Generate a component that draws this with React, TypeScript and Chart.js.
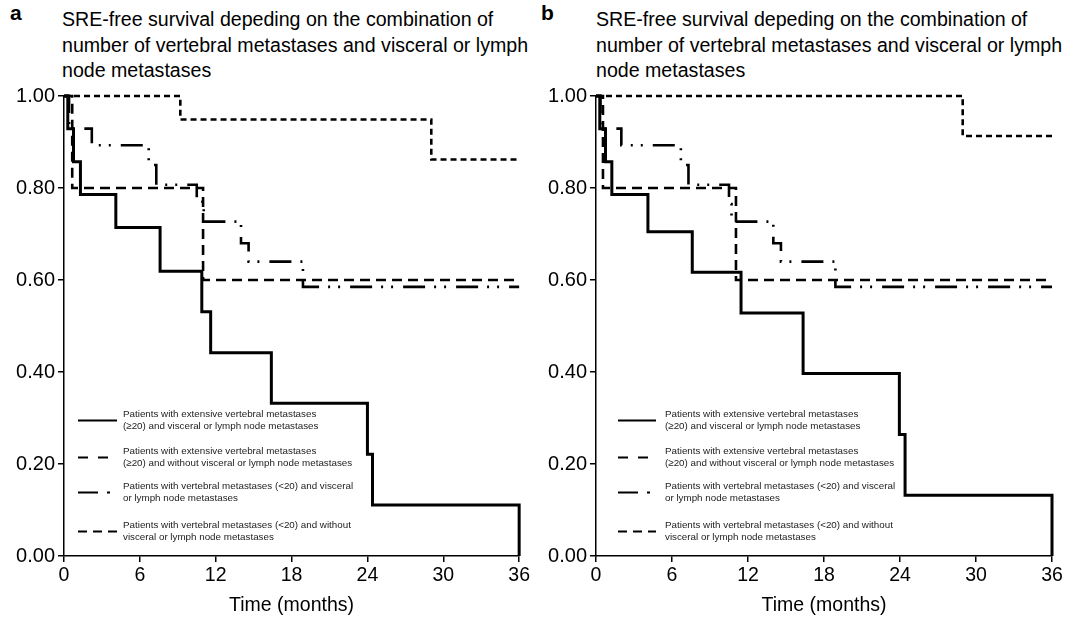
import React, { useEffect, useRef } from "react";
import { Chart, registerables } from "chart.js";

Chart.register(...registerables);

// ---------- data ----------
const timeTicks = [0, 6, 12, 18, 24, 30, 36];
const survivalTicks = [0, 0.2, 0.4, 0.6, 0.8, 1.0];

const titleLines = [
  "SRE-free survival depeding on the combination of",
  "number of vertebral metastases and visceral or lymph",
  "node metastases",
];
const xAxisTitle = "Time (months)";
const panelLetters = ["a", "b"];

const legendLabels = [
  ["Patients with extensive vertebral metastases", "(≥20) and visceral or lymph node metastases"],
  ["Patients with extensive vertebral metastases", "(≥20) and without visceral or lymph node metastases"],
  ["Patients with vertebral metastases (<20) and visceral", "or lymph node metastases"],
  ["Patients with vertebral metastases (<20) and without", "visceral or lymph node metastases"],
];

// Panel a
const aTimesExtVisc = [0, 0.3, 0.75, 1.3, 4.1, 7.6, 10.9, 11.6, 16.4, 24.0, 24.4, 36];
const aSurvExtVisc = [1, 0.929, 0.857, 0.786, 0.714, 0.619, 0.531, 0.442, 0.332, 0.221, 0.111, 0];
const aTimesExtNoVisc = [0, 0.65, 11.0, 36];
const aSurvExtNoVisc = [1, 0.8, 0.6, 0.6];
const aTimesLowVisc = [0, 0.4, 2.2, 6.7, 7.3, 10.5, 11.05, 14.0, 14.6, 18.9, 36];
const aSurvLowVisc = [1, 0.929, 0.893, 0.85, 0.807, 0.77, 0.727, 0.68, 0.64, 0.585, 0.585];
const aTimesLowNoVisc = [0, 9.2, 29.05, 36];
const aSurvLowNoVisc = [1, 0.949, 0.862, 0.862];

// Panel b
const bTimesExtVisc = [0, 0.3, 0.75, 1.25, 4.1, 7.6, 11.45, 16.35, 23.95, 24.4, 36];
const bSurvExtVisc = [1, 0.929, 0.857, 0.786, 0.705, 0.617, 0.528, 0.397, 0.264, 0.132, 0];
const bTimesExtNoVisc = [0, 0.55, 11.05, 36];
const bSurvExtNoVisc = [1, 0.8, 0.6, 0.6];
const bTimesLowVisc = [0, 0.35, 2.0, 6.7, 7.3, 10.5, 10.7, 14.0, 14.6, 18.9, 36];
const bSurvLowVisc = [1, 0.929, 0.893, 0.85, 0.807, 0.765, 0.727, 0.68, 0.64, 0.585, 0.585];
const bTimesLowNoVisc = [0, 28.95, 36];
const bSurvLowNoVisc = [1, 0.913, 0.913];

const panelA = [
  { times: aTimesExtVisc, surv: aSurvExtVisc },
  { times: aTimesExtNoVisc, surv: aSurvExtNoVisc },
  { times: aTimesLowVisc, surv: aSurvLowVisc },
  { times: aTimesLowNoVisc, surv: aSurvLowNoVisc },
];
const panelB = [
  { times: bTimesExtVisc, surv: bSurvExtVisc },
  { times: bTimesExtNoVisc, surv: bSurvExtNoVisc },
  { times: bTimesLowVisc, surv: bSurvLowVisc },
  { times: bTimesLowNoVisc, surv: bSurvLowNoVisc },
];

// ---------- styles ----------
const FONT = '"Liberation Sans", Arial, Helvetica, sans-serif';
const lineStyles = [
  { dash: [] as number[], width: 3, legendDash: [] as number[] },
  { dash: [10, 6], width: 2.6, legendDash: [10, 10] },
  { dash: [22, 9, 2, 8, 2, 10], width: 2.6, legendDash: [20, 9, 3, 100] },
  { dash: [6, 4], width: 2.6, legendDash: [9, 6] },
];
const legendRowOffsets = [318, 355, 390, 429]; // first text line centre, from chartArea top

const kmLegend = {
  id: "kmLegend",
  afterDatasetsDraw(chart: any, _args: any, opts: any) {
    const { ctx, chartArea } = chart;
    ctx.save();
    legendLabels.forEach((lines, i) => {
      const y0 = chartArea.top + legendRowOffsets[i];
      const st = lineStyles[i];
      ctx.beginPath();
      ctx.setLineDash(st.legendDash);
      ctx.lineWidth = 2;
      ctx.strokeStyle = "#000";
      const sy = y0 + 6.5;
      ctx.moveTo(chartArea.left + opts.sampleStart, sy);
      ctx.lineTo(chartArea.left + opts.sampleEnd, sy);
      ctx.stroke();
      ctx.setLineDash([]);
      ctx.fillStyle = "#222";
      ctx.font = `9.8px ${FONT}`;
      ctx.textBaseline = "middle";
      ctx.textAlign = "left";
      lines.forEach((t, k) => {
        ctx.fillText(t, chartArea.left + opts.textX, y0 + k * 12);
      });
    });
    ctx.restore();
  },
};

function KMChart(props: { series: { times: number[]; surv: number[] }[]; sampleStart: number; sampleEnd: number; textX: number; width: number }) {
  const ref = useRef<HTMLCanvasElement>(null);
  useEffect(() => {
    const canvas = ref.current!;
    const axisCommon = {
      grid: { drawOnChartArea: false, drawTicks: true, tickLength: 6, color: "#000", lineWidth: 1.5 },
      border: { display: true, color: "#000", width: 1.5 },
    };
    const chart = new Chart(canvas, {
      type: "line",
      data: {
        datasets: props.series.map((s, i) => ({
          label: legendLabels[i].join(" "),
          data: s.times.map((t, j) => ({ x: t, y: s.surv[j] })),
          stepped: "before" as const,
          borderColor: "#000",
          borderWidth: lineStyles[i].width,
          borderDash: lineStyles[i].dash,
          pointRadius: 0,
          fill: false,
          clip: 6,
        })),
      },
      options: {
        animation: false,
        responsive: false,
        layout: { padding: { left: 4, right: props.width - 64 - 456, top: 16, bottom: 0 } },
        plugins: {
          legend: { display: false },
          tooltip: { enabled: false },
          kmLegend: { sampleStart: props.sampleStart, sampleEnd: props.sampleEnd, textX: props.textX },
        } as any,
        scales: {
          x: {
            type: "linear",
            min: 0,
            max: 36,
            afterBuildTicks: (s: any) => {
              s.ticks = timeTicks.map((v) => ({ value: v }));
            },
            ticks: { font: { family: FONT, size: 19.5 }, color: "#000", padding: 2, maxRotation: 0, autoSkip: false },
            title: { display: true, text: xAxisTitle, font: { family: FONT, size: 19.5 }, color: "#000", padding: { top: 0, bottom: 0 } },
            afterFit: (s: any) => {
              s.height = 61;
            },
            ...axisCommon,
          },
          y: {
            type: "linear",
            min: 0,
            max: 1,
            afterBuildTicks: (s: any) => {
              s.ticks = survivalTicks.map((v) => ({ value: v }));
            },
            ticks: {
              font: { family: FONT, size: 20 },
              color: "#000",
              padding: 3,
              callback: (v: any) => Number(v).toFixed(2),
            },
            afterFit: (s: any) => {
              s.width = 60;
            },
            ...axisCommon,
          },
        },
      } as any,
      plugins: [kmLegend],
    });
    return () => chart.destroy();
  }, []);
  return <canvas ref={ref} width={props.width} height={537} style={{ display: "block" }} />;
}

function Panel(props: { left: number; width: number; letter: string; titleLeft: number; letterLeft: number; series: any; sampleStart: number; sampleEnd: number; textX: number }) {
  return (
    <div style={{ position: "absolute", left: props.left, top: 0, width: props.width, height: 617 }}>
      <div style={{ position: "absolute", left: props.letterLeft, top: 1, fontFamily: FONT, fontWeight: "bold", fontSize: 21, lineHeight: "24px", color: "#000" }}>
        {props.letter}
      </div>
      <div style={{ position: "absolute", left: props.titleLeft, top: 7, fontFamily: FONT, fontSize: 19.6, lineHeight: "25.5px", color: "#000", whiteSpace: "nowrap" }}>
        {titleLines.map((l, i) => (
          <div key={i}>{l}</div>
        ))}
      </div>
      <div style={{ position: "absolute", left: 0, top: 80 }}>
        <KMChart series={props.series} sampleStart={props.sampleStart} sampleEnd={props.sampleEnd} textX={props.textX} width={props.width} />
      </div>
    </div>
  );
}

export default function App() {
  return (
    <div style={{ position: "absolute", left: 0, top: 0, width: 1065, height: 617, background: "#fff", overflow: "hidden" }}>
      <Panel left={0} width={532} letter={panelLetters[0]} letterLeft={10} titleLeft={62} series={panelA} sampleStart={14} sampleEnd={53} textX={59} />
      <Panel left={532} width={533} letter={panelLetters[1]} letterLeft={9} titleLeft={64} series={panelB} sampleStart={22} sampleEnd={60} textX={69} />
    </div>
  );
}
